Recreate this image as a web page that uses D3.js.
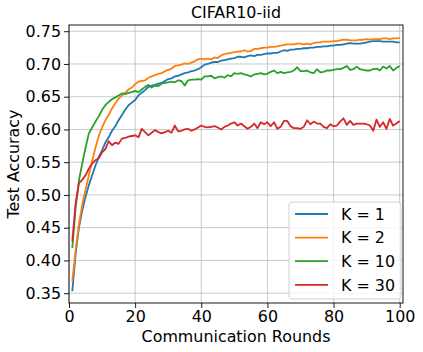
<!DOCTYPE html>
<html>
<head>
<meta charset="utf-8">
<script src="https://cdn.jsdelivr.net/npm/d3@7"></script>
<style>
    body { margin: 0; background: #fff; }
    text { font-family: "DejaVu Sans", sans-serif; }
</style>
</head>
<body>
<div id="chart"></div>
<script>
const rounds = d3.range(1, 101);

const k1 = [0.353, 0.410, 0.450, 0.476, 0.497, 0.515, 0.530, 0.545, 0.558, 0.568,
    0.580, 0.588, 0.598, 0.605, 0.614, 0.622, 0.630, 0.637, 0.641, 0.645,
    0.652, 0.656, 0.660, 0.665, 0.667, 0.668, 0.670, 0.671, 0.674, 0.677,
    0.678, 0.681, 0.682, 0.684, 0.686, 0.687, 0.689, 0.690, 0.692, 0.695,
    0.699, 0.700, 0.702, 0.703, 0.703, 0.705, 0.706, 0.707, 0.708, 0.709,
    0.711, 0.711, 0.710, 0.712, 0.713, 0.712, 0.714, 0.714, 0.715, 0.716,
    0.716, 0.717, 0.717, 0.719, 0.721, 0.720, 0.722, 0.722, 0.723, 0.723,
    0.724, 0.724, 0.725, 0.725, 0.726, 0.726, 0.727, 0.727, 0.728, 0.728,
    0.729, 0.729, 0.730, 0.731, 0.732, 0.731, 0.731, 0.731, 0.732, 0.733,
    0.734, 0.735, 0.735, 0.735, 0.734, 0.734, 0.734, 0.734, 0.733, 0.733];

const k2 = [0.368, 0.416, 0.455, 0.485, 0.508, 0.530, 0.552, 0.572, 0.590, 0.603,
    0.614, 0.622, 0.632, 0.640, 0.647, 0.652, 0.656, 0.661, 0.664, 0.669,
    0.673, 0.674, 0.675, 0.679, 0.681, 0.683, 0.685, 0.686, 0.689, 0.691,
    0.693, 0.697, 0.698, 0.699, 0.701, 0.700, 0.702, 0.704, 0.707, 0.708,
    0.707, 0.708, 0.707, 0.710, 0.709, 0.713, 0.715, 0.716, 0.717, 0.718,
    0.719, 0.719, 0.721, 0.719, 0.720, 0.723, 0.723, 0.724, 0.725, 0.725,
    0.726, 0.726, 0.727, 0.728, 0.729, 0.730, 0.730, 0.730, 0.731, 0.731,
    0.730, 0.731, 0.730, 0.732, 0.733, 0.733, 0.734, 0.734, 0.734, 0.735,
    0.735, 0.736, 0.737, 0.737, 0.736, 0.736, 0.736, 0.737, 0.737, 0.738,
    0.737, 0.738, 0.738, 0.738, 0.739, 0.739, 0.738, 0.739, 0.739, 0.740];

const k10 = [0.419, 0.480, 0.522, 0.548, 0.572, 0.594, 0.603, 0.612, 0.620, 0.630,
    0.637, 0.642, 0.646, 0.649, 0.652, 0.655, 0.654, 0.656, 0.657, 0.659,
    0.657, 0.661, 0.665, 0.668, 0.664, 0.667, 0.666, 0.670, 0.671, 0.672,
    0.673, 0.672, 0.675, 0.674, 0.667, 0.675, 0.676, 0.676, 0.677, 0.676,
    0.681, 0.681, 0.682, 0.678, 0.680, 0.681, 0.679, 0.683, 0.681, 0.686,
    0.685, 0.686, 0.684, 0.683, 0.681, 0.684, 0.685, 0.686, 0.684, 0.685,
    0.688, 0.690, 0.686, 0.688, 0.686, 0.687, 0.688, 0.690, 0.695, 0.689,
    0.689, 0.690, 0.687, 0.686, 0.692, 0.687, 0.688, 0.690, 0.690, 0.691,
    0.692, 0.692, 0.694, 0.697, 0.691, 0.692, 0.696, 0.692, 0.691, 0.690,
    0.690, 0.692, 0.693, 0.690, 0.696, 0.693, 0.697, 0.690, 0.694, 0.697];

const k30 = [0.429, 0.487, 0.518, 0.523, 0.530, 0.540, 0.548, 0.553, 0.556, 0.565,
    0.570, 0.582, 0.576, 0.580, 0.578, 0.586, 0.587, 0.589, 0.590, 0.591,
    0.588, 0.601, 0.596, 0.591, 0.595, 0.599, 0.596, 0.594, 0.596, 0.598,
    0.595, 0.606, 0.597, 0.598, 0.600, 0.601, 0.598, 0.600, 0.603, 0.606,
    0.604, 0.603, 0.604, 0.605, 0.603, 0.600, 0.604, 0.606, 0.609, 0.611,
    0.606, 0.609, 0.605, 0.601, 0.604, 0.609, 0.602, 0.611, 0.608, 0.611,
    0.605, 0.611, 0.601, 0.604, 0.613, 0.613, 0.605, 0.602, 0.602, 0.601,
    0.604, 0.614, 0.608, 0.612, 0.609, 0.609, 0.604, 0.602, 0.608, 0.605,
    0.606, 0.612, 0.617, 0.607, 0.613, 0.607, 0.609, 0.609, 0.609, 0.608,
    0.606, 0.598, 0.615, 0.604, 0.611, 0.601, 0.616, 0.606, 0.609, 0.613];

const seriesNames = ["K = 1", "K = 2", "K = 10", "K = 30"];
const seriesValues = [k1, k2, k10, k30];
const colors = ["#1f77b4", "#ff7f0e", "#2ca02c", "#d62728"];

const xTicks = [0, 20, 40, 60, 80, 100];
const yTicks = [0.35, 0.40, 0.45, 0.50, 0.55, 0.60, 0.65, 0.70, 0.75];

const width = 423;
const height = 352;
const margin = {top: 25, right: 20, bottom: 49, left: 69};
const fontSize = 15.9;

const svg = d3.select("#chart").append("svg")
    .attr("width", width)
    .attr("height", height);

const x = d3.scaleLinear()
    .domain([0, 101])
    .range([margin.left, width - margin.right]);

const y = d3.scaleLinear()
    .domain([0.335, 0.7595])
    .range([height - margin.bottom, margin.top]);

// grid
svg.append("g")
    .attr("stroke", "#b0b0b0")
    .attr("stroke-opacity", 0.75)
    .attr("stroke-width", 0.9)
    .selectAll("line.xg")
    .data(xTicks)
    .join("line")
    .attr("x1", d => x(d)).attr("x2", d => x(d))
    .attr("y1", margin.top).attr("y2", height - margin.bottom);

svg.append("g")
    .attr("stroke", "#b0b0b0")
    .attr("stroke-opacity", 0.75)
    .attr("stroke-width", 0.9)
    .selectAll("line.yg")
    .data(yTicks)
    .join("line")
    .attr("x1", margin.left).attr("x2", width - margin.right)
    .attr("y1", d => y(d)).attr("y2", d => y(d));

// lines
const line = d3.line()
    .x((d, i) => x(rounds[i]))
    .y(d => y(d));

svg.append("g")
    .attr("fill", "none")
    .attr("stroke-width", 1.8)
    .attr("stroke-linejoin", "round")
    .selectAll("path")
    .data(seriesValues)
    .join("path")
    .attr("stroke", (d, i) => colors[i])
    .attr("d", line);

// axes
const xAxis = svg.append("g")
    .attr("transform", `translate(0,${height - margin.bottom})`)
    .call(d3.axisBottom(x).tickValues(xTicks).tickSize(5).tickPadding(3));

const yAxis = svg.append("g")
    .attr("transform", `translate(${margin.left},0)`)
    .call(d3.axisLeft(y).tickValues(yTicks).tickFormat(d3.format(".2f")).tickSize(5).tickPadding(3));

[xAxis, yAxis].forEach(a => {
    a.select(".domain").remove();
    a.selectAll("text")
        .attr("font-family", "DejaVu Sans")
        .attr("font-size", fontSize)
        .attr("fill", "#000");
    a.selectAll("line").attr("stroke", "#000").attr("stroke-width", 0.9);
});

// frame
svg.append("rect")
    .attr("x", margin.left)
    .attr("y", margin.top)
    .attr("width", width - margin.right - margin.left)
    .attr("height", height - margin.bottom - margin.top)
    .attr("fill", "none")
    .attr("stroke", "#000")
    .attr("stroke-width", 0.9);

// title and labels
svg.append("text")
    .attr("x", (margin.left + width - margin.right) / 2)
    .attr("y", 18)
    .attr("text-anchor", "middle")
    .attr("font-size", fontSize)
    .text("CIFAR10-iid");

svg.append("text")
    .attr("x", (margin.left + width - margin.right) / 2)
    .attr("y", 342)
    .attr("text-anchor", "middle")
    .attr("font-size", fontSize)
    .text("Communication Rounds");

svg.append("text")
    .attr("transform", `translate(19,${(margin.top + height - margin.bottom) / 2}) rotate(-90)`)
    .attr("text-anchor", "middle")
    .attr("font-size", fontSize)
    .text("Test Accuracy");

// legend
const legend = svg.append("g")
    .attr("transform", "translate(289,202)");

legend.append("rect")
    .attr("width", 112)
    .attr("height", 97)
    .attr("rx", 3)
    .attr("fill", "#fff")
    .attr("fill-opacity", 0.8)
    .attr("stroke", "#cccccc")
    .attr("stroke-width", 0.9);

const rows = legend.selectAll("g.row")
    .data(seriesNames)
    .join("g")
    .attr("transform", (d, i) => `translate(0,${12 + i * 23.6})`);

rows.append("line")
    .attr("x1", 6).attr("x2", 39)
    .attr("stroke", (d, i) => colors[i])
    .attr("stroke-width", 1.8);

rows.append("text")
    .attr("x", 52)
    .attr("dy", "0.36em")
    .attr("font-size", fontSize)
    .text(d => d);
</script>
</body>
</html>
